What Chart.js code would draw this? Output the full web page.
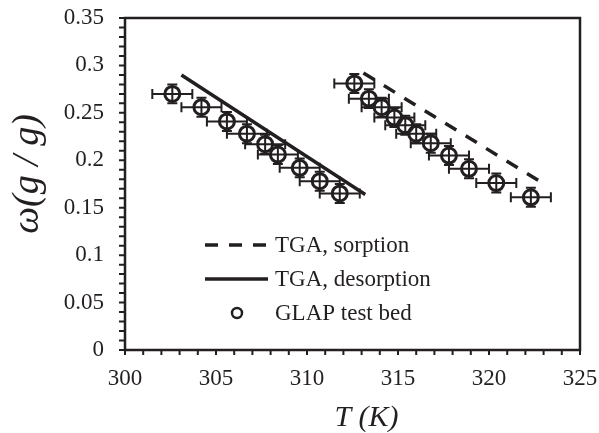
<!DOCTYPE html>
<html>
<head>
<meta charset="utf-8">
<script src="https://cdn.jsdelivr.net/npm/chart.js@4"></script>
<style>
  html, body { margin: 0; padding: 0; background: #fff; }
  #wrap { width: 599px; height: 433px; }
</style>
</head>
<body>
<div id="wrap"><canvas id="omega"></canvas></div>
<script>
// TGA lines (end points)
var sorpT = [313.1, 323.2];
var sorpW = [0.292, 0.173];
var desT = [303.1, 313.2];
var desW = [0.290, 0.164];

// GLAP test bed points with error bars
var glapT = [302.6, 304.2, 305.6, 306.7, 307.7, 308.4, 309.6, 310.7, 311.8,
             312.6, 313.4, 314.1, 314.8, 315.4, 316.0, 316.8, 317.8, 318.9, 320.4, 322.3];
var glapW = [0.270, 0.256, 0.241, 0.228, 0.217, 0.206, 0.192, 0.178, 0.165,
             0.281, 0.265, 0.256, 0.245, 0.237, 0.228, 0.218, 0.205, 0.191, 0.176, 0.161];
var glapTErr = [1.1, 1.1, 1.1, 1.1, 1.1, 1.1, 1.1, 1.1, 1.1,
                1.1, 1.1, 1.1, 1.1, 1.1, 1.1, 1.1, 1.1, 1.1, 1.1, 1.1];
var glapWErr = [0.01, 0.01, 0.01, 0.01, 0.01, 0.01, 0.01, 0.01, 0.01,
                0.01, 0.01, 0.01, 0.01, 0.01, 0.01, 0.01, 0.01, 0.01, 0.01, 0.01];

var legendLabels = ["TGA, sorption", "TGA, desorption", "GLAP test bed"];
var xTitle = "T (K)";
var yTitle = "ω(g / g)";

var ink = "#231f20";
var serif = "'Liberation Serif', 'Times New Roman', serif";

function pairs(xs, ys) {
  return xs.map(function (x, i) { return { x: x, y: ys[i] }; });
}

// error bars, minor ticks, frame, axis titles and legend
var decor = {
  id: "decor",
  beforeDatasetsDraw: function (chart) {
    var c = chart.ctx, xs = chart.scales.x, ys = chart.scales.y;
    c.save();
    c.strokeStyle = ink;
    c.lineWidth = 2;
    for (var i = 0; i < glapT.length; i++) {
      var px = xs.getPixelForValue(glapT[i]), py = ys.getPixelForValue(glapW[i]);
      var x1 = xs.getPixelForValue(glapT[i] - glapTErr[i]);
      var x2 = xs.getPixelForValue(glapT[i] + glapTErr[i]);
      var y1 = ys.getPixelForValue(glapW[i] - glapWErr[i]);
      var y2 = ys.getPixelForValue(glapW[i] + glapWErr[i]);
      c.beginPath();
      c.moveTo(x1, py); c.lineTo(x2, py);
      c.moveTo(x1, py - 5); c.lineTo(x1, py + 5);
      c.moveTo(x2, py - 5); c.lineTo(x2, py + 5);
      c.moveTo(px, y1); c.lineTo(px, y2);
      c.moveTo(px - 5, y1); c.lineTo(px + 5, y1);
      c.moveTo(px - 5, y2); c.lineTo(px + 5, y2);
      c.stroke();
    }
    c.restore();
  },
  afterDraw: function (chart) {
    var c = chart.ctx, a = chart.chartArea, xs = chart.scales.x, ys = chart.scales.y;
    c.save();
    c.strokeStyle = ink;
    c.lineWidth = 2;
    c.beginPath();
    for (var t = 300; t <= 325; t++) {
      var tx = xs.getPixelForValue(t);
      c.moveTo(tx, a.bottom); c.lineTo(tx, a.bottom + 5);
    }
    for (var k = 0; k <= 35; k++) {
      var ty = ys.getPixelForValue(k / 100);
      c.moveTo(a.left - 6, ty); c.lineTo(a.left, ty);
    }
    c.stroke();
    c.lineWidth = 2.5;
    c.strokeRect(a.left, a.top, a.right - a.left, a.bottom - a.top);

    // axis titles
    c.fillStyle = ink;
    c.textAlign = "center";
    c.textBaseline = "middle";
    c.font = "italic 30px " + serif;
    c.fillText(xTitle, (a.left + a.right) / 2 + 14, 418);
    c.save();
    c.translate(28, (a.top + a.bottom) / 2 - 10);
    c.rotate(-Math.PI / 2);
    c.font = "italic 38px " + serif;
    c.fillText(yTitle, 0, 0);
    c.restore();

    // legend
    var ds = chart.data.datasets;
    var lx = a.left + 80, ly = a.top + 227, gap = 34;
    c.font = "23px " + serif;
    c.textAlign = "left";
    for (var j = 0; j < ds.length; j++) {
      var yy = ly + j * gap;
      c.strokeStyle = ink;
      if (j < 2) {
        c.lineWidth = ds[j].borderWidth;
        c.setLineDash(ds[j].borderDash || []);
        c.beginPath();
        c.moveTo(lx, yy); c.lineTo(lx + 63, yy);
        c.stroke();
        c.setLineDash([]);
      } else {
        c.lineWidth = 2.5;
        c.beginPath();
        c.arc(lx + 32, yy, 5, 0, Math.PI * 2);
        c.stroke();
      }
      c.fillText(legendLabels[j], lx + 70, yy + 1);
    }
    c.restore();
  }
};

var ctx = document.getElementById("omega").getContext("2d");
var omegaChart = new Chart(ctx, {
  type: "scatter",
  data: {
    datasets: [
      {
        label: legendLabels[0],
        data: pairs(sorpT, sorpW),
        showLine: true,
        borderColor: ink,
        borderWidth: 3.5,
        borderDash: [13, 11],
        pointRadius: 0,
      },
      {
        label: legendLabels[1],
        data: pairs(desT, desW),
        showLine: true,
        borderColor: ink,
        borderWidth: 3.5,
        pointRadius: 0,
      },
      {
        label: legendLabels[2],
        data: pairs(glapT, glapW),
        showLine: false,
        borderColor: ink,
        backgroundColor: "rgba(0,0,0,0)",
        borderWidth: 3,
        pointRadius: 7.5,
      },
    ],
  },
  options: {
    responsive: true,
    maintainAspectRatio: false,
    animation: false,
    layout: { padding: { top: 18, right: 19, left: 0, bottom: 0 } },
    plugins: {
      legend: { display: false },
      tooltip: { enabled: false },
    },
    scales: {
      x: {
        type: "linear",
        min: 300,
        max: 325,
        afterFit: function (s) {
          s.height = 83;
          s.paddingLeft = 0;
          s.paddingRight = 0;
        },
        grid: { display: false, drawTicks: false },
        border: { display: false },
        ticks: {
          stepSize: 5,
          padding: 15,
          color: ink,
          font: { family: serif, size: 23 },
        },
      },
      y: {
        min: 0,
        max: 0.35,
        afterFit: function (s) {
          s.width = 125;
          s.paddingTop = 0;
          s.paddingBottom = 0;
        },
        grid: { display: false, drawTicks: false },
        border: { display: false },
        ticks: {
          stepSize: 0.05,
          padding: 21,
          color: ink,
          font: { family: serif, size: 23 },
          callback: function (v) { return String(+v.toFixed(2)); },
        },
      },
    },
  },
  plugins: [decor],
});
</script>
</body>
</html>
